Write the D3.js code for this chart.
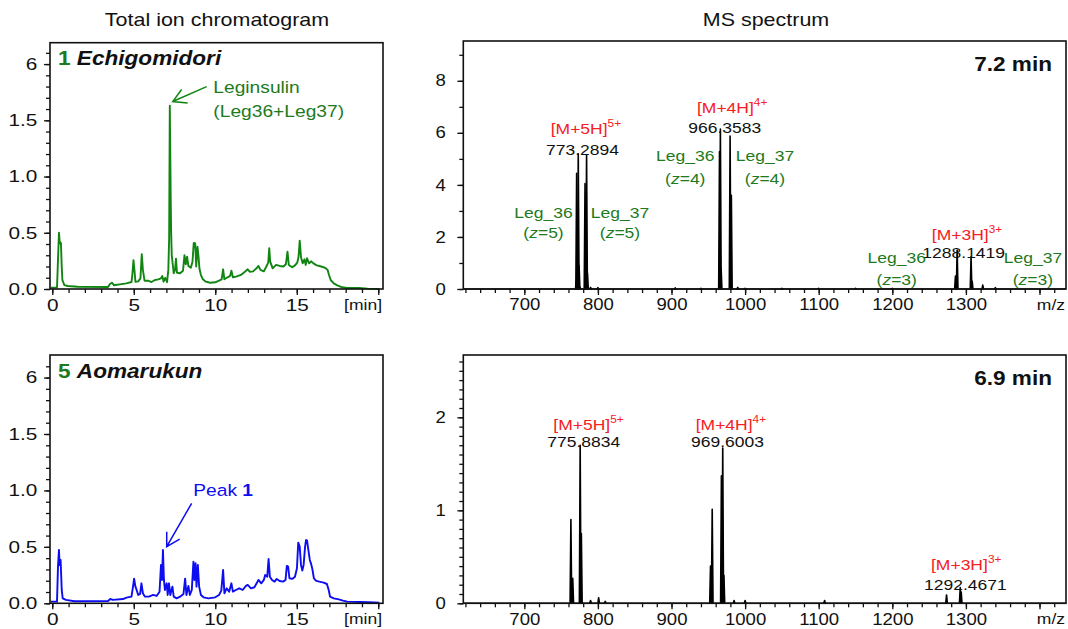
<!DOCTYPE html>
<html>
<head>
<meta charset="utf-8">
<script src="https://cdn.jsdelivr.net/npm/d3@7"></script>
<style>
  body { margin: 0; background: #fff; }
  svg text { font-family: Arial, "Liberation Sans", sans-serif; }
</style>
</head>
<body>
<div id="chart"></div>
<script>
// ── data ─────────────────────────────────────────────────────────────
// total ion chromatograms: [time (min), intensity]
var TIC_ECHIGOMIDORI = [
    [-0.1,0.012],[0.29,0.012],[0.35,0.26],[0.41,0.50],[0.45,0.43],[0.49,0.405],[0.53,0.41],
    [0.58,0.20],[0.62,0.08],[0.74,0.035],[0.95,0.027],[1.56,0.02],[3.42,0.018],[3.54,0.044],
    [3.66,0.056],[3.79,0.033],[4.14,0.041],[4.55,0.05],[4.86,0.062],[4.92,0.14],[4.98,0.257],
    [5.04,0.17],[5.10,0.065],[5.27,0.068],[5.41,0.095],[5.49,0.31],[5.56,0.17],[5.66,0.074],
    [5.88,0.074],[6.09,0.062],[6.30,0.08],[6.50,0.086],[6.67,0.095],[6.75,0.115],[6.83,0.065],
    [6.93,0.10],[7.04,0.06],[7.12,0.17],[7.17,0.45],[7.21,1.63],[7.24,1.2],[7.26,0.88],
    [7.29,0.52],[7.33,0.30],[7.45,0.14],[7.53,0.17],[7.59,0.27],[7.65,0.145],[7.84,0.14],
    [8.02,0.163],[8.11,0.30],[8.19,0.22],[8.27,0.287],[8.35,0.204],[8.50,0.19],[8.60,0.24],
    [8.68,0.41],[8.77,0.405],[8.83,0.20],[8.91,0.375],[8.97,0.29],[9.03,0.18],[9.12,0.124],
    [9.24,0.086],[9.42,0.065],[9.69,0.056],[10.0,0.06],[10.23,0.074],[10.39,0.086],[10.48,0.175],
    [10.56,0.086],[10.75,0.104],[10.91,0.116],[10.99,0.163],[11.08,0.104],[11.28,0.11],
    [11.57,0.125],[11.82,0.154],[11.99,0.175],[12.11,0.154],[12.32,0.157],[12.53,0.184],
    [12.65,0.205],[12.77,0.17],[12.98,0.157],[13.15,0.205],[13.25,0.234],[13.31,0.362],
    [13.37,0.243],[13.52,0.184],[13.73,0.214],[13.95,0.205],[14.18,0.20],[14.33,0.22],
    [14.43,0.332],[14.51,0.214],[14.72,0.193],[14.89,0.21],[15.03,0.234],[15.11,0.288],
    [15.18,0.43],[15.26,0.282],[15.36,0.228],[15.47,0.264],[15.55,0.214],[15.63,0.273],
    [15.76,0.228],[15.88,0.246],[16.02,0.228],[16.23,0.21],[16.50,0.20],[16.75,0.187],
    [16.89,0.17],[16.98,0.125],[17.08,0.08],[17.27,0.05],[17.49,0.033],[17.78,0.015],
    [18.10,0.009],[18.82,0.009],[19.34,0.003],[20.06,0.0]
];

var TIC_AOMARUKUN = [
    [-0.1,0.015],[0.29,0.015],[0.35,0.325],[0.41,0.473],[0.45,0.34],[0.51,0.384],[0.58,0.118],
    [0.64,0.044],[0.84,0.03],[1.36,0.018],[3.42,0.021],[3.56,0.038],[3.72,0.03],[4.34,0.038],
    [4.55,0.05],[4.86,0.059],[4.96,0.154],[5.02,0.219],[5.10,0.148],[5.19,0.112],[5.27,0.074],
    [5.39,0.083],[5.47,0.177],[5.56,0.089],[5.68,0.059],[5.93,0.059],[6.19,0.074],[6.40,0.065],
    [6.58,0.103],[6.67,0.34],[6.73,0.207],[6.79,0.473],[6.85,0.207],[6.91,0.118],[7.02,0.177],
    [7.08,0.074],[7.16,0.177],[7.24,0.074],[7.37,0.148],[7.45,0.059],[7.63,0.044],[7.84,0.059],
    [8.05,0.083],[8.15,0.219],[8.23,0.074],[8.35,0.154],[8.44,0.074],[8.56,0.118],[8.66,0.369],
    [8.72,0.207],[8.79,0.355],[8.85,0.148],[8.93,0.34],[9.01,0.148],[9.12,0.074],[9.28,0.053],
    [9.59,0.044],[10.0,0.053],[10.23,0.074],[10.37,0.112],[10.48,0.296],[10.56,0.089],
    [10.70,0.133],[10.85,0.103],[10.99,0.177],[11.08,0.103],[11.26,0.118],[11.47,0.133],
    [11.68,0.118],[11.88,0.154],[11.99,0.163],[12.19,0.133],[12.40,0.142],[12.65,0.207],
    [12.82,0.177],[12.98,0.207],[13.06,0.251],[13.19,0.236],[13.27,0.393],[13.35,0.236],
    [13.48,0.207],[13.64,0.192],[13.77,0.216],[13.95,0.198],[14.16,0.192],[14.31,0.207],
    [14.39,0.331],[14.47,0.325],[14.55,0.222],[14.72,0.216],[14.89,0.236],[15.01,0.31],
    [15.09,0.538],[15.18,0.502],[15.26,0.34],[15.34,0.29],[15.42,0.34],[15.51,0.502],
    [15.57,0.561],[15.63,0.556],[15.71,0.473],[15.80,0.384],[15.88,0.349],[15.96,0.301],
    [16.05,0.222],[16.17,0.201],[16.38,0.192],[16.65,0.183],[16.85,0.171],[16.96,0.118],
    [17.04,0.059],[17.27,0.044],[17.58,0.035],[17.83,0.024],[18.10,0.015],[18.82,0.012],
    [19.44,0.009],[20.06,0.006]
];

// MS spectra: [m/z, intensity] of the drawn peaks
var MS_72MIN = [
    [770.6,0.3],[771.1,4.45],[773.3,5.2],[774.4,0.9],[775.5,0.08],[782.5,4.05],[784.6,5.15],
    [785.8,0.6],[790,0.06],[800,0.05],[905,0.04],[940,0.03],[965.2,5.28],[966.4,6.15],[967.4,0.8],
    [979.6,5.88],[981.3,3.6],[990,0.06],[1000,0.03],[1050,0.03],[1100,0.03],[1150,0.03],
    [1200,0.03],[1285.8,0.5],[1288.1,1.5],[1307.0,1.24],[1308.5,0.3],[1322.9,0.15],[1340,0.05]
];

var MS_69MIN = [
    [763.3,0.9],[765.8,0.27],[775.9,1.70],[777.5,0.75],[790,0.03],[801,0.06],[810,0.02],
    [953.0,0.4],[955.3,1.01],[967.8,1.37],[969.6,1.67],[971.2,0.3],[985,0.03],[1000,0.03],
    [1108,0.03],[1273.7,0.09],[1292.3,0.17],[1293.6,0.12]
];

var TIC_Y_TICKS   = [0, 0.5, 1, 1.5, 2];
var TIC_Y_LABELS  = ["0.0", "0.5", "1.0", "1.5", "6"];
var TIC_X_TICKS   = [0, 5, 10, 15, 20];
var TIC_X_LABELS  = ["0", "5", "10", "15", ""];
var MS_X_TICKS    = [700, 800, 900, 1000, 1100, 1200, 1300, 1400];
var MS_X_LABELS   = ["700", "800", "900", "1000", "1100", "1200", "1300", ""];
var MS_TOP_Y_TICKS    = [0, 2, 4, 6, 8];
var MS_BOTTOM_Y_TICKS = [0, 1, 2];

// ── setup ────────────────────────────────────────────────────────────
var W = 1068, H = 629;
var SX = 1.13;              // the reference text is slightly wide
var GREEN = "#118511", GREEN_TXT = "#1d7a1d", BLUE = "#0d0df2", RED = "#f5201f";

var svg = d3.select("#chart").append("svg")
    .attr("width", W).attr("height", H);

function panel(box, xDom, yDom) {
    var g = svg.append("g").attr("transform", "translate(" + box.x + "," + box.y + ")");
    return {
        g: g, w: box.w, h: box.h,
        x: d3.scaleLinear().domain(xDom).range([0, box.w]),
        y: d3.scaleLinear().domain(yDom).range([box.h, 0])
    };
}

function range(a, b, step) {
    var out = [];
    for (var v = a; v <= b + 1e-9; v += step) out.push(+v.toFixed(4));
    return out;
}

function styleAxis(size, sx) {
    return function (sel) {
        sel.select(".domain").remove();
        sel.selectAll("line").attr("stroke", "#111").attr("stroke-width", 1.3);
        sel.selectAll("text")
            .attr("fill", "#111")
            .style("font-size", size + "px")
            .attr("transform", "scale(" + sx + ",1)");
    };
}

function axes(p, o) {
    var st = styleAxis(o.font, o.sx);
    p.g.append("g").attr("transform", "translate(0," + p.h + ")")
        .call(d3.axisBottom(p.x).tickValues(o.xMinor).tickSize(4).tickFormat(""))
        .call(st);
    p.g.append("g").attr("transform", "translate(0," + p.h + ")")
        .call(d3.axisBottom(p.x).tickValues(o.xMajor).tickSize(6).tickPadding(4)
            .tickFormat(function (d, i) { return o.xLabels[i]; }))
        .call(st);
    p.g.append("g")
        .call(d3.axisLeft(p.y).tickValues(o.yMinor).tickSize(4).tickFormat(""))
        .call(st);
    p.g.append("g")
        .call(d3.axisLeft(p.y).tickValues(o.yMajor).tickSize(6).tickPadding(o.yPad)
            .tickFormat(function (d, i) { return o.yLabels ? o.yLabels[i] : d; }))
        .call(st);

    // unit label at right end of x axis
    text(p.g, p.w - 1, p.h + 21, "end", 15.5).text(o.unit);

    p.g.append("rect")
        .attr("width", p.w).attr("height", p.h)
        .attr("fill", "none").attr("stroke", "#111").attr("stroke-width", 1.6);
}

function text(g, x, y, anchor, size, weight, fill) {
    return g.append("text")
        .attr("transform", "translate(" + x + "," + y + ") scale(" + SX + ",1)")
        .attr("text-anchor", anchor)
        .style("font-size", size + "px")
        .style("font-weight", weight || "normal")
        .attr("fill", fill || "#111");
}

function arrow(g, x1, y1, x2, y2, color) {
    // shaft from (x1,y1) to tip (x2,y2), open arrowhead
    var a = Math.atan2(y1 - y2, x1 - x2), len = 15, spread = 0.52;
    var d = "M" + x1 + "," + y1 + "L" + x2 + "," + y2 +
        "M" + (x2 + len * Math.cos(a - spread)) + "," + (y2 + len * Math.sin(a - spread)) +
        "L" + x2 + "," + y2 +
        "L" + (x2 + len * Math.cos(a + spread)) + "," + (y2 + len * Math.sin(a + spread));
    g.append("path").attr("d", d).attr("fill", "none")
        .attr("stroke", color).attr("stroke-width", 1.5);
}

// ── titles ───────────────────────────────────────────────────────────
text(svg, 217, 26, "middle", 19).text("Total ion chromatogram");
text(svg, 766, 26, "middle", 19).text("MS spectrum");

// ── chromatograms ────────────────────────────────────────────────────
var ticOpts = {
    xMajor: TIC_X_TICKS, xLabels: TIC_X_LABELS, xMinor: range(0, 20, 1),
    yMajor: TIC_Y_TICKS, yLabels: TIC_Y_LABELS, yMinor: range(0, 2.1, 0.1),
    yPad: 4, unit: "[min]", font: 16.5, sx: 1.26
};

function chromatogram(box, yTop, data, color, num, name) {
    var p = panel(box, [-0.14, 20.29], [0, yTop]);
    var line = d3.line().x(function (d) { return p.x(d[0]); }).y(function (d) { return p.y(d[1]); });
    p.g.append("path").datum(data)
        .attr("d", line).attr("fill", "none")
        .attr("stroke", color).attr("stroke-width", 1.9).attr("stroke-linejoin", "round");
    axes(p, ticOpts);
    var t = text(p.g, 8, 22.5, "start", 20, "bold");
    t.append("tspan").attr("fill", GREEN_TXT).text(num + " ");
    t.append("tspan").style("font-style", "italic").text(name);
    return p;
}

var tl = chromatogram({ x: 50, y: 42.7, w: 333, h: 246.3 }, 2.19, TIC_ECHIGOMIDORI, GREEN, "1", "Echigomidori");
arrow(tl.g, tl.x(9.47), tl.y(1.80), tl.x(7.39), tl.y(1.667), GREEN);
text(tl.g, tl.x(9.88), tl.y(1.742), "start", 17, null, GREEN_TXT).text("Leginsulin");
text(tl.g, tl.x(9.88), tl.y(1.531), "start", 17, null, GREEN_TXT).text("(Leg36+Leg37)");

var bl = chromatogram({ x: 50, y: 355, w: 333, h: 248.3 }, 2.20, TIC_AOMARUKUN, BLUE, "5", "Aomarukun");
arrow(bl.g, bl.x(8.55), bl.y(0.886), bl.x(7.02), bl.y(0.502), BLUE);
var pk = text(bl.g, bl.x(8.65), bl.y(0.954), "start", 17, null, BLUE);
pk.append("tspan").text("Peak ");
pk.append("tspan").style("font-weight", "bold").text("1");

// ── spectra ──────────────────────────────────────────────────────────
function spectrum(box, yTop, data, yMajor, yMinorStep, timeLabel) {
    var p = panel(box, [617.1, 1436], [0, yTop]);
    p.g.append("line")
        .attr("x1", 0).attr("x2", p.w)
        .attr("y1", p.y(0)).attr("y2", p.y(0))
        .attr("stroke", "#111").attr("stroke-width", 1.5);
    p.g.selectAll(".peak").data(data).enter().append("path")
        .attr("class", "peak")
        .attr("d", function (d) {
            return "M" + p.x(d[0] - 1.1) + "," + p.y(0) +
                "L" + p.x(d[0]) + "," + p.y(d[1]) +
                "L" + p.x(d[0] + 1.1) + "," + p.y(0) + "Z";
        })
        .attr("fill", "#000").attr("stroke", "#000").attr("stroke-width", 1.6)
        .attr("stroke-linejoin", "round");
    axes(p, {
        xMajor: MS_X_TICKS, xLabels: MS_X_LABELS, xMinor: range(620, 1420, 20),
        yMajor: yMajor, yMinor: range(0, yTop, yMinorStep),
        yPad: 9, unit: "m/z", font: 16, sx: 1.16
    });
    text(p.g, p.w - 14, 29.5, "end", 20, "bold").text(timeLabel);
    return p;
}

function ion(p, mz, v, charge) {
    var t = text(p.g, p.x(mz), p.y(v), "middle", 15.5, null, RED);
    t.append("tspan").text("[M+" + charge + "H]");
    t.append("tspan").attr("dy", -7).style("font-size", "10.5px").text(charge + "+");
}

function mass(p, mz, v, label) {
    text(p.g, p.x(mz), p.y(v), "middle", 15.5).text(label);
}

function leg(p, mz, v1, v2, name, z) {
    text(p.g, p.x(mz), p.y(v1), "middle", 15.5, null, GREEN_TXT).text(name);
    var t = text(p.g, p.x(mz), p.y(v2), "middle", 15.5, null, GREEN_TXT);
    t.append("tspan").text("(");
    t.append("tspan").style("font-style", "italic").text("z");
    t.append("tspan").text("=" + z + ")");
}

var tr = spectrum({ x: 463.3, y: 41, w: 602.7, h: 248 }, 9.53, MS_72MIN, MS_TOP_Y_TICKS, 1, "7.2 min");
ion(tr, 783.7, 5.96, 5);
mass(tr, 779.1, 5.15, "773.2894");
leg(tr, 726.1, 2.72, 1.95, "Leg_36", 5);
leg(tr, 830.0, 2.72, 1.95, "Leg_37", 5);
ion(tr, 982.4, 6.77, 4);
mass(tr, 972.3, 6.01, "966.3583");
leg(tr, 918.7, 4.9, 4.04, "Leg_36", 4);
leg(tr, 1027, 4.9, 4.04, "Leg_37", 4);
ion(tr, 1301.5, 1.88, 3);
mass(tr, 1297, 1.18, "1288.1419");
leg(tr, 1206, 0.99, 0.15, "Leg_36", 3);
leg(tr, 1391.1, 0.99, 0.15, "Leg_37", 3);

var br = spectrum({ x: 463.3, y: 355, w: 602.7, h: 248.3 }, 2.67, MS_69MIN, MS_BOTTOM_Y_TICKS, 0.1, "6.9 min");
ion(br, 787.2, 1.86, 5);
mass(br, 780.7, 1.68, "775.8834");
ion(br, 980.7, 1.86, 4);
mass(br, 976.1, 1.68, "969.6003");
ion(br, 1300.4, 0.36, 3);
mass(br, 1299.2, 0.14, "1292.4671");
</script>
</body>
</html>
